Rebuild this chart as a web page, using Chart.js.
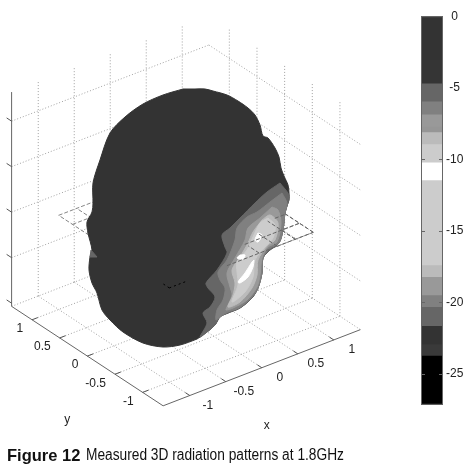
<!DOCTYPE html>
<html>
<head>
<meta charset="utf-8">
<script src="https://cdn.jsdelivr.net/npm/chart.js@4"></script>
<style>
  html, body { margin: 0; background: #fff; }
  canvas { position: absolute; }
  #pattern { left: 0; top: 0; }
  #colorbar { left: 420px; top: 6px; }
  #caption { position: absolute; left: 7px; top: 447px; white-space: nowrap; color: #111; font: 16px "Liberation Sans", sans-serif; }
  #caption b { font-size: 16.5px; position: absolute; left: 0; top: -1px; }
  #caption span { position: absolute; left: 79px; top: -1px; transform: scaleX(0.858); transform-origin: left; }
</style>
</head>
<body>
<canvas id="pattern" width="470" height="469"></canvas>
<canvas id="colorbar" width="50" height="409"></canvas>
<div id="caption"><b>Figure 12</b><span>Measured 3D radiation patterns at 1.8GHz</span></div>
<script>
// axis ticks
const xTicks = [-1, -0.5, 0, 0.5, 1];
const yTicks = [1, 0.5, 0, -0.5, -1];
const zTicks = [-1, 0, 1, 2];
const meshTicks = [-1, -0.75, -0.5, -0.25, 0, 0.25, 0.5, 0.75, 1];
const boxLimit = 1.37;
const zMin = -2.07;
const zMax = 2.64;

// the z=0 mesh pieces that show in front of the pattern: x1, y1, x2, y2
const meshFront = [
  [-0.2, -1, 1, -1], [0.24, -0.75, 1, -0.75], [0.85, -0.5, 1, -0.5],
  [1, -1, 1, -0.5], [0.75, -1, 0.75, -0.5], [0.5, -1, 0.5, -0.65], [0.25, -1, 0.25, -0.8]
];
const meshDark = [[-1, -1, -0.75, -1], [-1, -1, -1, -0.85]];

// pattern outlines as seen in the view plane (u, v)
const headOutline = [[-3,229],[9,229],[19,229],[27,227],[41,223],[52,217],[62,210],[69,203],[74,193],[77,182],[82,180],[89,170],[93,161],[95,150],[98,142],[102,133],[103,125],[103,118],[102,115],[99,105],[97,88],[93,75],[84,68],[77,60],[76,45],[72,30],[66,20],[54,10],[42,5],[34,1],[29,-7],[21,-14],[14,-19],[11,-21],[-6,-27],[-23,-29],[-43,-25],[-63,-14],[-76,-2],[-84,8],[-89,25],[-94,35],[-97,48],[-96,61],[-94,68],[-98,85],[-99,96],[-94,106],[-93,115],[-93,135],[-86,158],[-76,185],[-61,201],[-43,214],[-23,223],[-3,229]];
const shard = [[-95,68],[-89,61],[-96,61],[-95,68]];
const band6 = [[94,135],[103,123],[102,115],[99,105],[97,88],[93,75],[84,68],[77,60],[76,45],[72,30],[66,20],[54,10],[42,5],[34,1],[29,-7],[21,-14],[14,-19],[21,-5],[17,5],[24,11],[29,21],[22,30],[20,35],[31,48],[41,65],[39,71],[36,83],[44,90],[54,100],[69,115],[81,126],[94,135]];
const band7 = [[96,125],[101,115],[99,105],[97,88],[93,75],[83,69],[77,60],[76,45],[72,30],[65,20],[53,10],[42,6],[35,2],[30,-2],[31,8],[37,18],[39,30],[34,38],[32,46],[41,58],[49,78],[51,90],[61,101],[71,106],[84,116],[96,125]];
const band8 = [[86,111],[92,108],[95,95],[91,76],[82,71],[76,60],[74,43],[71,31],[61,18],[47,10],[40,8],[41,11],[46,23],[44,31],[41,45],[49,60],[59,78],[62,90],[74,100],[86,111]];
const band9 = [[76,98],[84,103],[92,95],[89,78],[82,73],[72,58],[71,43],[66,30],[54,16],[42,11],[47,23],[49,35],[46,48],[54,61],[62,75],[67,86],[76,98]];
const band10 = [[82,100],[89,93],[87,80],[79,71],[69,58],[67,41],[59,26],[46,16],[52,33],[51,46],[51,56],[61,68],[67,81],[74,95],[82,100]];
const white1 = [[72,85],[76,83],[72,76],[69,78],[72,85]];
const white2 = [[54,63],[59,63],[57,59],[51,60],[54,63]];
const white3 = [[68,58],[67,51],[62,41],[54,35],[52,36],[59,45],[66,56],[68,58]];

// colour bar
const barEdges = [0, -3, -4.68, -5.93, -6.84, -7.68, -8.09, -8.93, -10.19, -11.44, -17.38, -18.2, -19.47, -20.3, -21.63, -22.9, -23.7, -27.15];
const barColors = ['#333333', '#353535', '#666666', '#808080', '#999999', '#969696', '#bbbbbb', '#cccccc', '#ffffff', '#cccccc', '#bbbbbb', '#999999', '#808080', '#666666', '#333333', '#3a3a3a', '#000000'];
const barTicks = [0, -5, -10, -15, -20, -25];

// view of the 3D box, same orientation as the measured plot
function project(x, y, z) {
  return {
    x: 72 * x - 55.3 * y,
    y: 27.8 * x + 36.3 * y + 45.5 * (z - zMin)
  };
}

function segments(list) {
  const pts = [];
  list.forEach(s => {
    pts.push(project(...s[0]), project(...s[1]), { x: NaN, y: NaN });
  });
  return pts;
}

const L = boxLimit;
const gridSegs = [];
xTicks.forEach(t => {
  gridSegs.push([[t, L, zMin], [t, L, zMax]]);
  gridSegs.push([[t, -L, zMin], [t, L, zMin]]);
});
yTicks.forEach(t => {
  gridSegs.push([[L, t, zMin], [L, t, zMax]]);
  gridSegs.push([[-L, t, zMin], [L, t, zMin]]);
});
zTicks.forEach(t => {
  gridSegs.push([[-L, L, t], [L, L, t]]);
  gridSegs.push([[L, L, t], [L, -L, t]]);
});
gridSegs.push([[-L, L, zMin], [L, L, zMin]], [[L, L, zMin], [L, -L, zMin]]);

const axisSegs = [
  [[-L, L, zMin], [-L, L, zMax]],
  [[-L, L, zMin], [-L, -L, zMin]],
  [[-L, -L, zMin], [L, -L, zMin]]
];
const tickSegs = [];
xTicks.forEach(t => tickSegs.push([[t, -L, zMin], [t, -L + 0.08, zMin]]));
yTicks.forEach(t => tickSegs.push([[-L, t, zMin], [-L + 0.08, t, zMin]]));
zTicks.concat([-2]).forEach(t => tickSegs.push([[-L, L, t], [-L, L + 0.09, t]]));

const meshSegs = [];
meshTicks.forEach(t => {
  meshSegs.push([[t, -1, 0], [t, 1, 0]]);
  meshSegs.push([[-1, t, 0], [1, t, 0]]);
});
const toMesh = s => [[s[0], s[1], 0], [s[2], s[3], 0]];

function lineSet(data, color, dash) {
  return { data: segments(data), borderColor: color, borderWidth: 1, borderDash: dash || [], pointRadius: 0, showLine: true, fill: false, spanGaps: false };
}
function shapeSet(outline, color, tension) {
  return {
    data: outline.map(p => ({ x: p[0], y: p[1] })),
    borderColor: color, backgroundColor: color, borderWidth: 1,
    pointRadius: 0, showLine: true, fill: 'shape', tension: tension
  };
}

// listed bottom to top
const layers = [
  lineSet(gridSegs, '#a0a0a0', [1, 2]),
  lineSet(meshSegs, '#858585', [4, 2]),
  lineSet(axisSegs, '#666666'),
  lineSet(tickSegs, '#555555'),
  shapeSet(headOutline, '#333333', 0.3),
  shapeSet(shard, '#666666', 0),
  shapeSet(band6, '#666666', 0.3),
  shapeSet(band7, '#808080', 0.3),
  shapeSet(band8, '#999999', 0.3),
  shapeSet(band9, '#bbbbbb', 0.3),
  shapeSet(band10, '#cccccc', 0.3),
  shapeSet(white1, '#ffffff', 0.3),
  shapeSet(white2, '#ffffff', 0.3),
  shapeSet(white3, '#ffffff', 0.3),
  lineSet(meshFront.map(toMesh), '#666666', [4, 2]),
  lineSet(meshDark.map(toMesh), '#000000', [2, 3])
];
layers.forEach((d, i) => { d.order = -i; });

const axisText = {
  id: 'axisText',
  afterDatasetsDraw(chart) {
    const { ctx, scales } = chart;
    const at = p => [scales.x.getPixelForValue(p.x), scales.y.getPixelForValue(p.y)];
    ctx.save();
    ctx.fillStyle = '#222';
    ctx.font = '12px "Liberation Sans", sans-serif';
    ctx.textBaseline = 'middle';
    ctx.textAlign = 'center';
    xTicks.forEach(t => {
      const [px, py] = at(project(t, -L, zMin));
      ctx.fillText(String(t), px + 18, py + 10);
    });
    ctx.textAlign = 'right';
    yTicks.forEach(t => {
      const [px, py] = at(project(-L, t, zMin));
      ctx.fillText(String(t), px - 9, py + 9);
    });
    ctx.textAlign = 'center';
    let [px, py] = at(project(0, -L, zMin));
    ctx.fillText('x', px + 5, py + 58);
    [px, py] = at(project(-L, 0, zMin));
    ctx.fillText('y', px - 20, py + 64);
    ctx.restore();
  }
};

new Chart(document.getElementById('pattern'), {
  type: 'scatter',
  data: { datasets: layers },
  options: {
    responsive: false,
    animation: false,
    layout: { padding: 0 },
    plugins: { legend: { display: false }, tooltip: { enabled: false } },
    scales: {
      x: { type: 'linear', display: false, min: -186, max: 284 },
      y: { type: 'linear', display: false, min: -151, max: 318 }
    }
  },
  plugins: [axisText]
});

const barFrame = {
  id: 'barFrame',
  afterDatasetsDraw(chart) {
    const { ctx, chartArea: a, scales } = chart;
    ctx.save();
    ctx.strokeStyle = '#666';
    ctx.lineWidth = 1;
    ctx.strokeRect(a.left + 0.5, a.top + 0.5, a.right - a.left - 1, a.bottom - a.top - 1);
    ctx.beginPath();
    barTicks.forEach(t => {
      const py = Math.round(scales.y.getPixelForValue(t)) + 0.5;
      ctx.moveTo(a.left, py); ctx.lineTo(a.left + 4, py);
      ctx.moveTo(a.right - 4, py); ctx.lineTo(a.right, py);
    });
    ctx.stroke();
    ctx.restore();
  }
};

new Chart(document.getElementById('colorbar'), {
  type: 'bar',
  data: {
    labels: ['dB'],
    datasets: barColors.map((c, i) => ({
      data: [barEdges[i + 1] - barEdges[i]],
      backgroundColor: c,
      barPercentage: 1,
      categoryPercentage: 1,
      borderWidth: 0
    }))
  },
  options: {
    responsive: false,
    animation: false,
    layout: { padding: { left: 1, top: 10, bottom: 10, right: 0 } },
    plugins: { legend: { display: false }, tooltip: { enabled: false } },
    scales: {
      x: { stacked: true, display: false },
      y: {
        stacked: true,
        position: 'right',
        min: -27.15,
        max: 0,
        grid: { display: false, drawTicks: false },
        border: { display: false },
        afterBuildTicks: s => { s.ticks = barTicks.map(v => ({ value: v })); },
        afterFit: s => { s.width = 27; },
        ticks: {
          color: '#222',
          padding: 3,
          crossAlign: 'center',
          font: { family: '"Liberation Sans", sans-serif', size: 12 }
        }
      }
    }
  },
  plugins: [barFrame]
});
</script>
</body>
</html>
